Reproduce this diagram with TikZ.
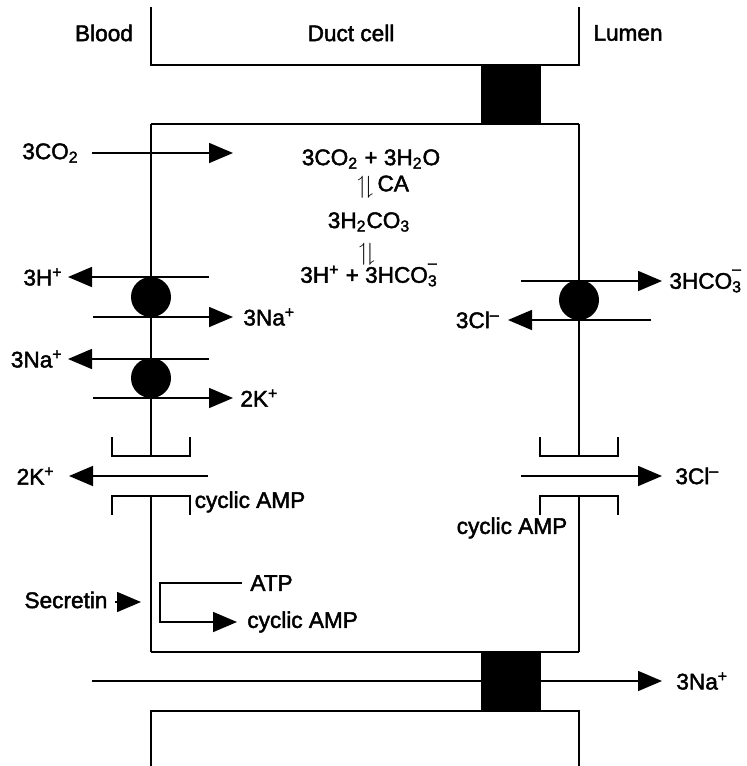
\documentclass[tikz,border=0pt]{standalone}
\usepackage{fontspec}
\setmainfont{Liberation Sans}[FakeBold=2]
\usepackage{amssymb}
\usetikzlibrary{arrows.meta,positioning}

\newcommand{\subsup}[2]{\rlap{\textsubscript{#1}}\textsuperscript{\raisebox{0.8ex}{#2}}}
\newcommand{\eqharp}{\raisebox{-0.2ex}{\scalebox{1.1}{$\upharpoonleft\!\downharpoonright$}}}

\begin{document}
\begin{tikzpicture}[
    x=0.5pt, y=-0.5pt,
    every node/.style={font=\fontsize{11.3}{13.5}\selectfont, inner sep=0pt},
    membrane/.style={line width=0.8pt},
    flow/.style={-{Triangle[length=12pt, width=10pt]}, line width=0.8pt},
    pump/.style={circle, fill=black, minimum size=20pt},
    junction/.style={fill=black, minimum width=30pt, minimum height=29.5pt}
]
\useasboundingbox (0,0) rectangle (747,766);

% end points of the arrows
\coordinate (co2in) at (92,153);
\coordinate (co2out) at (233,153);
\coordinate (hin) at (209,277);
\coordinate (hout) at (68,277);
\coordinate (nain) at (93,317);
\coordinate (naout) at (233,317);
\coordinate (nbin) at (209,359);
\coordinate (nbout) at (68,359);
\coordinate (kin) at (93,398);
\coordinate (kout) at (233,398);
\coordinate (kchin) at (208,476);
\coordinate (kchout) at (69,476);
\coordinate (bicin) at (521,281);
\coordinate (bicout) at (662,281);
\coordinate (clin) at (651,320);
\coordinate (clout) at (508,320);
\coordinate (clchin) at (521,476);
\coordinate (clchout) at (662,476);
\coordinate (parain) at (92,681);
\coordinate (paraout) at (662,681);
\coordinate (secin) at (115,602);
\coordinate (secout) at (141,602);
\coordinate (atpend) at (242,583);
\coordinate (cyclase) at (160,622);
\coordinate (campend) at (237,622);

% paracellular route first, so that the junction covers it
\draw[flow] (parain) -- (paraout);

% cells and tight junctions
\draw[membrane] (151,7) |- (579,65) -- (579,7);
\draw[membrane] (151,766) |- (579,711) -- (579,766);
\draw[membrane] (151,124) -- (579,124);
\draw[membrane] (151,652) -- (579,652);
\draw[membrane] (151,124) -- (151,456);
\draw[membrane] (151,496) -- (151,652);
\draw[membrane] (579,124) -- (579,456);
\draw[membrane] (579,496) -- (579,652);
\node[junction] (tjtop) at (511,94.5) {};
\node[junction] (tjbot) at (511,681.5) {};

% channels
\draw[membrane] (112,437) |- (190,456) -- (190,437);
\draw[membrane] (112,515) |- (190,496) -- (190,515);
\draw[membrane] (540,437) |- (618,456) -- (618,437);
\draw[membrane] (540,515) |- (618,496) -- (618,515);

% headings
\node (blood) at (104,33) {Blood};
\node (duct) at (351,33) {Duct cell};
\node (lumen) at (628,33) {Lumen};

% carbonic anhydrase reaction
\node (react) at (371,159) {3CO\textsubscript{2} + 3H\textsubscript{2}O};
\node (stepa) at (383,187) {\eqharp\,CA};
\node (carb) at (369,222) {3H\textsubscript{2}CO\textsubscript{3}};
\node (stepb) at (367,254) {\eqharp};
\node (prod) at (369,275) {3H\textsuperscript{+} + 3HCO\subsup{3}{–}};

% basolateral side
\node[left=6.5pt of co2in] (co2) {3CO\textsubscript{2}};
\draw[flow] (co2in) -- (co2out);
\draw[flow] (hin) -- (hout);
\node[left=2.5pt of hout] (hplus) {3H\textsuperscript{+}};
\draw[flow] (nain) -- (naout);
\node[right=5pt of naout] (naa) {3Na\textsuperscript{+}};
\draw[flow] (nbin) -- (nbout);
\node[left=2.5pt of nbout] (nab) {3Na\textsuperscript{+}};
\draw[flow] (kin) -- (kout);
\node[right=3.5pt of kout] (ka) {2K\textsuperscript{+}};
\node[pump] (exch) at (151,297) {};
\node[pump] (napump) at (151,378) {};
\draw[flow] (kchin) -- (kchout);
\node[left=7pt of kchout] (kb) {2K\textsuperscript{+}};
\node (campa) at (250,502) {cyclic AMP};

% secretin and adenylate cyclase
\node (secretin) at (66,600) {Secretin};
\draw[flow] (secin) -- (secout);
\draw[flow] (atpend) -| (cyclase) -- (campend);
\node[right=4pt of atpend] (atp) {ATP};
\node[right=5pt of campend] (campb) {cyclic AMP};

% luminal side
\draw[flow] (bicin) -- (bicout);
\node[right=3.5pt of bicout] (bic) {3HCO\subsup{3}{–}};
\draw[flow] (clin) -- (clout);
\node[left=4pt of clout] (cla) {3Cl\textsuperscript{–}};
\node[pump] (anex) at (579,300) {};
\draw[flow] (clchin) -- (clchout);
\node[right=6.5pt of clchout] (clb) {3Cl\textsuperscript{–}};
\node (campc) at (512,528) {cyclic AMP};
\node[right=7pt of paraout] (nac) {3Na\textsuperscript{+}};
\end{tikzpicture}
\end{document}
